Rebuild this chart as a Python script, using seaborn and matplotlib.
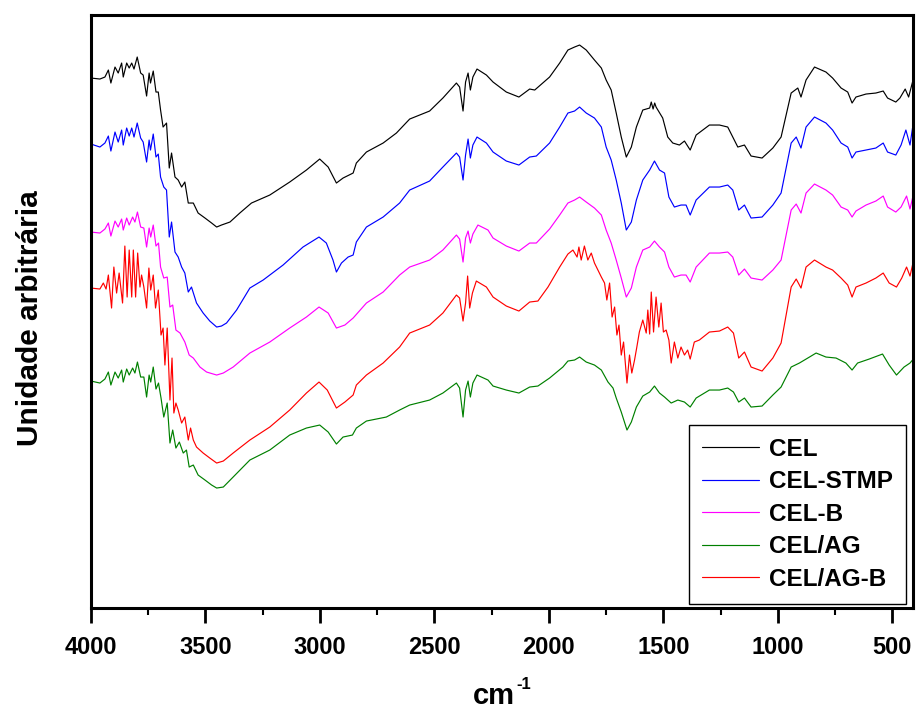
import pandas as pd
import seaborn as sns
import matplotlib.pyplot as plt
from matplotlib.ticker import MultipleLocator

# FTIR spectra (arbitrary units, stacked)
cel_wn = [4000, 3961, 3939, 3924, 3913, 3895, 3881, 3866, 3859, 3844, 3833, 3822, 3812, 3798, 3783,
          3772, 3757, 3746, 3740, 3728, 3716, 3706, 3696, 3685, 3670, 3658, 3648, 3633, 3619, 3604,
          3590, 3575, 3553, 3532, 3502, 3473, 3451, 3430, 3393, 3350, 3299, 3219, 3132, 3059, 3001,
          2964, 2928, 2899, 2855, 2841, 2797, 2724, 2666, 2608, 2521, 2463, 2404, 2390, 2375, 2364,
          2353, 2343, 2332, 2314, 2273, 2244, 2186, 2131, 2084, 2062, 1997, 1953, 1917, 1888, 1866,
          1837, 1801, 1771, 1750, 1728, 1706, 1684, 1662, 1640, 1618, 1590, 1560, 1553, 1545, 1538,
          1532, 1503, 1481, 1459, 1430, 1408, 1383, 1357, 1299, 1255, 1219, 1175, 1146, 1117, 1069,
          1022, 986, 942, 913, 899, 877, 840, 790, 761, 724, 695, 676, 659, 615, 572, 540, 521, 485,
          467, 444, 429, 412]
cel_y = [530, 529, 531, 538, 525, 541, 535, 545, 531, 545, 540, 545, 539, 551, 535,
         533, 512, 535, 525, 537, 516, 516, 498, 481, 485, 440, 455, 431, 428, 421,
         426, 405, 405, 395, 390, 385, 381, 383, 386, 395, 405, 413, 426, 438, 449,
         441, 425, 430, 435, 445, 456, 465, 475, 489, 497, 510, 525, 521, 497, 526,
         535, 518, 531, 539, 533, 526, 516, 511, 519, 518, 531, 545, 558, 561, 563,
         558, 548, 540, 528, 518, 495, 471, 451, 461, 481, 498, 500, 506, 499, 505,
         501, 490, 471, 465, 463, 467, 458, 473, 483, 483, 481, 461, 463, 452, 450,
         460, 471, 515, 520, 511, 528, 541, 536, 530, 520, 516, 505, 511, 514, 515, 517, 510, 506,
         510, 519, 511, 526]

stmp_wn = [4000, 3961, 3939, 3924, 3913, 3895, 3881, 3866, 3859, 3844, 3833, 3822, 3812, 3798, 3783,
           3772, 3757, 3746, 3740, 3728, 3716, 3706, 3696, 3682, 3670, 3658, 3648, 3633, 3619, 3604,
           3590, 3575, 3561, 3539, 3510, 3481, 3451, 3430, 3408, 3364, 3306, 3248, 3161, 3074, 3004,
           2972, 2943, 2928, 2906, 2877, 2855, 2841, 2797, 2724, 2652, 2608, 2521, 2463, 2404, 2390,
           2375, 2364, 2353, 2343, 2332, 2314, 2273, 2244, 2186, 2131, 2084, 2055, 1997, 1953, 1917,
           1888, 1866, 1837, 1801, 1771, 1750, 1728, 1706, 1684, 1662, 1640, 1618, 1590, 1560, 1539,
           1517, 1495, 1476, 1452, 1423, 1401, 1383, 1357, 1299, 1255, 1219, 1197, 1171, 1146, 1117,
           1069, 1022, 986, 942, 920, 899, 877, 840, 790, 761, 724, 695, 676, 659, 615, 572, 540, 521,
           485, 462, 441, 423, 412]
stmp_y = [464, 461, 465, 472, 457, 476, 466, 478, 463, 480, 472, 480, 471, 485, 470,
          466, 446, 468, 458, 474, 451, 454, 431, 421, 418, 371, 386, 356, 351, 341,
          335, 316, 321, 305, 295, 287, 281, 282, 285, 298, 320, 328, 343, 361, 371,
          365, 348, 336, 345, 351, 353, 366, 381, 391, 405, 418, 427, 441, 455, 451,
          428, 453, 469, 450, 463, 471, 465, 456, 447, 443, 451, 452, 465, 481, 495,
          497, 501, 495, 490, 481, 461, 448, 428, 405, 378, 386, 408, 428, 438, 447,
          438, 435, 411, 401, 403, 403, 393, 408, 421, 421, 423, 418, 398, 403, 390,
          391, 403, 415, 465, 471, 460, 481, 491, 485, 478, 465, 461, 450, 456, 458, 460, 465, 456,
          453, 463, 478, 463, 480]

celb_wn = [4000, 3961, 3939, 3924, 3913, 3895, 3881, 3866, 3859, 3844, 3833, 3818, 3808, 3797, 3783,
           3769, 3757, 3746, 3739, 3728, 3716, 3705, 3696, 3682, 3667, 3655, 3643, 3629, 3611, 3590,
           3571, 3553, 3524, 3495, 3451, 3422, 3379, 3306, 3219, 3132, 3059, 3004, 2964, 2928, 2891,
           2855, 2797, 2724, 2652, 2608, 2521, 2463, 2404, 2390, 2375, 2364, 2353, 2343, 2332, 2310,
           2266, 2244, 2186, 2131, 2084, 2055, 1997, 1953, 1917, 1888, 1866, 1837, 1801, 1771, 1750,
           1728, 1706, 1684, 1662, 1640, 1618, 1590, 1560, 1539, 1517, 1495, 1476, 1452, 1423, 1401,
           1383, 1357, 1299, 1255, 1219, 1197, 1171, 1146, 1117, 1069, 1022, 986, 942, 920, 899, 877,
           840, 790, 761, 724, 695, 676, 659, 615, 572, 540, 521, 485, 462, 438, 423, 412]
celb_y = [376, 375, 379, 385, 372, 387, 381, 389, 378, 390, 383, 391, 386, 396, 381,
          380, 361, 380, 371, 383, 362, 365, 341, 330, 331, 301, 303, 278, 275, 266,
          253, 250, 241, 236, 233, 235, 241, 255, 266, 280, 291, 301, 295, 280, 283,
          290, 305, 316, 333, 341, 348, 358, 373, 369, 346, 370, 377, 365, 374, 383,
          378, 370, 362, 357, 365, 365, 379, 393, 405, 408, 411, 406, 400, 393, 378,
          365, 348, 330, 311, 320, 341, 358, 361, 367, 361, 356, 341, 331, 333, 333,
          326, 341, 355, 355, 356, 351, 333, 339, 330, 328, 338, 348, 398, 404, 395, 415,
          424, 418, 413, 401, 398, 391, 397, 403, 407, 412, 401, 396, 401, 412, 399, 410]

ag_wn = [4000, 3961, 3939, 3924, 3913, 3895, 3881, 3866, 3859, 3844, 3833, 3818, 3808, 3797, 3783,
         3769, 3757, 3746, 3739, 3728, 3716, 3705, 3694, 3682, 3667, 3655, 3643, 3629, 3614, 3597,
         3583, 3571, 3553, 3532, 3502, 3473, 3451, 3422, 3379, 3306, 3219, 3132, 3059, 3001, 2964,
         2928, 2899, 2858, 2841, 2797, 2710, 2652, 2608, 2521, 2463, 2404, 2390, 2375, 2364, 2353,
         2343, 2332, 2314, 2266, 2244, 2186, 2131, 2084, 2048, 1997, 1939, 1917, 1888, 1866, 1837,
         1801, 1771, 1742, 1720, 1706, 1684, 1659, 1640, 1618, 1590, 1560, 1539, 1517, 1495, 1466,
         1437, 1408, 1383, 1357, 1299, 1255, 1219, 1194, 1171, 1146, 1117, 1069, 1022, 986, 942,
         906, 862, 833, 790, 746, 703, 676, 652, 601, 543, 514, 482, 449, 423, 412]
ag_y = [227, 225, 229, 236, 223, 236, 230, 238, 226, 239, 233, 240, 235, 246, 231,
        231, 211, 233, 226, 241, 219, 225, 210, 191, 205, 165, 178, 160, 166, 155,
        158, 141, 143, 133, 128, 123, 120, 121, 131, 148, 158, 173, 180, 183, 176,
        164, 171, 173, 180, 187, 191, 198, 203, 208, 215, 225, 220, 191, 218, 227,
        211, 225, 233, 228, 222, 218, 215, 221, 222, 230, 241, 247, 248, 251, 246,
        243, 238, 226, 220, 210, 196, 178, 186, 201, 212, 216, 222, 215, 211, 205,
        208, 206, 201, 210, 218, 218, 220, 216, 206, 210, 201, 202, 213, 221, 241,
        245, 251, 255, 251, 250, 245, 238, 245, 249, 254, 243, 233, 241, 245, 248]

agb_wn = [4000, 3961, 3946, 3934, 3924, 3910, 3900, 3888, 3877, 3862, 3852, 3842, 3833, 3822, 3815,
          3805, 3796, 3786, 3779, 3769, 3757, 3747, 3739, 3728, 3718, 3706, 3694, 3685, 3677, 3667,
          3655, 3646, 3638, 3629, 3619, 3604, 3590, 3575, 3565, 3553, 3539, 3510, 3481, 3451, 3422,
          3379, 3306, 3219, 3132, 3059, 3004, 2968, 2928, 2891, 2855, 2841, 2797, 2724, 2652, 2608,
          2521, 2463, 2404, 2390, 2375, 2364, 2355, 2346, 2334, 2317, 2273, 2244, 2186, 2131, 2084,
          2048, 2004, 1953, 1917, 1895, 1877, 1869, 1859, 1845, 1830, 1815, 1801, 1786, 1771, 1757,
          1747, 1735, 1724, 1713, 1703, 1694, 1684, 1674, 1659, 1648, 1638, 1626, 1616, 1605, 1590,
          1575, 1568, 1560, 1553, 1543, 1532, 1520, 1510, 1500, 1488, 1476, 1466, 1452, 1437, 1423,
          1408, 1394, 1383, 1365, 1343, 1299, 1255, 1219, 1194, 1171, 1146, 1117, 1069, 1022, 986,
          942, 920, 899, 877, 840, 790, 761, 724, 695, 676, 659, 615, 572, 540, 514, 482, 459, 438,
          423, 412]
agb_y = [320, 319, 325, 319, 333, 300, 341, 315, 335, 305, 362, 311, 358, 311, 358,
         311, 355, 321, 333, 321, 300, 340, 318, 333, 300, 318, 273, 280, 243, 280,
         208, 250, 195, 205, 198, 185, 191, 168, 180, 168, 161, 155, 150, 145, 147,
         155, 168, 181, 198, 215, 226, 218, 200, 206, 213, 223, 233, 245, 261, 275,
         283, 295, 313, 310, 287, 305, 332, 300, 315, 327, 321, 311, 302, 297, 306,
         307, 321, 341, 354, 358, 351, 361, 348, 362, 348, 355, 345, 338, 331, 325,
         308, 325, 291, 301, 273, 283, 253, 266, 225, 253, 235, 248, 261, 276, 288,
         275, 298, 274, 316, 276, 311, 281, 305, 276, 278, 268, 245, 266, 250, 261,
         253, 258, 249, 266, 268, 276, 277, 281, 275, 250, 256, 241, 237, 250, 265,
         321, 329, 320, 341, 348, 341, 338, 330, 323, 311, 321, 325, 330, 335, 325, 321, 330, 341,
         332, 343]

labels = ["CEL", "CEL-STMP", "CEL-B", "CEL/AG", "CEL/AG-B"]
colors = ["black", "blue", "magenta", "green", "red"]
series = [(cel_wn, cel_y), (stmp_wn, stmp_y), (celb_wn, celb_y), (ag_wn, ag_y), (agb_wn, agb_y)]

df = pd.concat([pd.DataFrame({"wn": wn, "val": y, "amostra": lab})
                for lab, (wn, y) in zip(labels, series)], ignore_index=True)

sns.set_style("ticks")
plt.rcParams["font.family"] = ["Liberation Sans", "DejaVu Sans"]
plt.rcParams["font.weight"] = "bold"
plt.rcParams["text.color"] = "black"
plt.rcParams["axes.edgecolor"] = "black"
plt.rcParams["xtick.color"] = "black"
plt.rcParams["axes.labelcolor"] = "black"

fig = plt.figure(figsize=(9.16, 7.09), dpi=100)
ax = fig.add_axes([0.0993, 0.1424, 0.8974, 0.8364])

sns.lineplot(data=df, x="wn", y="val", hue="amostra", hue_order=labels,
             palette=dict(zip(labels, colors)), estimator=None, sort=False,
             linewidth=0.85, ax=ax)

ax.set_xlim(4000, 410)
ax.set_ylim(0, 593)
ax.set_xticks([4000, 3500, 3000, 2500, 2000, 1500, 1000, 500])
ax.xaxis.set_minor_locator(MultipleLocator(250))
ax.set_yticks([])
ax.tick_params(axis="x", which="major", direction="out", length=11, width=2, pad=9,
               labelsize=17, colors="black")
ax.tick_params(axis="x", which="minor", direction="out", length=5, width=1.5)
for lbl in ax.get_xticklabels():
    lbl.set_fontweight("bold")
for sp in ax.spines.values():
    sp.set_visible(True)
    sp.set_linewidth(2.2)
    sp.set_color("black")

ax.set_xlabel("")
ax.set_ylabel("")
# axis titles: "cm" with a raised "-1", and the rotated y title
fig.text(473 / 916, 5 / 709, "cm", ha="left", va="baseline", fontsize=21, fontweight="bold")
fig.text(516 / 916, 20 / 709, "-1", ha="left", va="baseline", fontsize=12, fontweight="bold")
fig.text(30 / 916, 1 - 318 / 709, "Unidade arbitrária", rotation=90, ha="center", va="center",
         fontsize=21.5, fontweight="bold")

handles, labs = ax.get_legend_handles_labels()
leg = ax.legend(handles, labs, loc="lower right", bbox_to_anchor=(0.992, 0.007),
                borderaxespad=0, frameon=True, fancybox=False,
                handlelength=2.35, labelspacing=0.39, borderpad=0.54, handletextpad=0.42,
                prop={"weight": "bold", "size": 17.5})
leg.get_frame().set_edgecolor("black")
leg.get_frame().set_linewidth(1.0)
leg.get_frame().set_alpha(1)

plt.savefig("out.png", dpi=100)
plt.close()
